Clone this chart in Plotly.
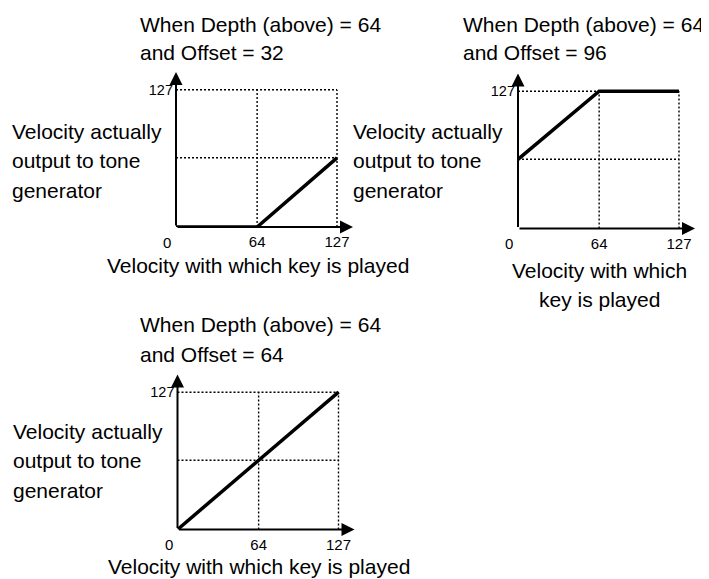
import plotly.graph_objects as go

# ---- data ----
titles = [
    ["When Depth (above) = 64", "and Offset = 32"],
    ["When Depth (above) = 64", "and Offset = 96"],
    ["When Depth (above) = 64", "and Offset = 64"],
]
y_label = ["Velocity actually", "output to tone", "generator"]
x_label_wide = ["Velocity with which key is played"]
x_label_narrow = ["Velocity with which", "key is played"]

key_vel = [[0, 64, 127], [0, 64, 127], [0, 127]]
out_vel = [[0, 0, 64], [64, 127, 127], [0, 127]]

grid_vals = [64, 127]
x_ticks = [64, 127]
y_ticks = [127]
vmax = 127

# ---- layout in pixels (page body adds an 8px margin) ----
OFF = 8
W, H = 709 - OFF, 579 - OFF
SX, SY = 161 / 127, 137.3 / 127        # px per unit
EXT_X, EXT_Y = 177, 155                # axis length incl. arrow (px)
origins = [(176, 227), (518, 228.5), (177.5, 529.5)]

FONT = "Liberation Sans, Arial, sans-serif"
TXT = 21
TICK = 15


def px(x):
    return (x - OFF) / W


def py(y):
    return 1 - (y - OFF) / H


fig = go.Figure()
annotations = []

for i, (ox, oy) in enumerate(origins):
    n = "" if i == 0 else str(i + 1)
    xa, ya = "x" + n, "y" + n
    xr = EXT_X / SX
    yr = EXT_Y / SY

    fig.update_layout(**{
        "xaxis" + n: dict(domain=[px(ox), px(ox + EXT_X)], range=[0, xr],
                          anchor=ya, showgrid=False, zeroline=False,
                          showline=False, tickvals=x_ticks, ticks="",
                          ticklabelstandoff=4,
                          tickfont=dict(size=TICK, color="black", family=FONT)),
        "yaxis" + n: dict(domain=[py(oy), py(oy - EXT_Y)], range=[0, yr],
                          anchor=xa, showgrid=False, zeroline=False,
                          showline=False, tickvals=y_ticks, ticks="",
                          ticklabelstandoff=2,
                          tickfont=dict(size=TICK - 0.5, color="black", family=FONT)),
    })

    # dotted guide box
    for g in grid_vals:
        fig.add_trace(go.Scatter(x=[g, g], y=[0, vmax], xaxis=xa, yaxis=ya,
                                 mode="lines", hoverinfo="skip",
                                 line=dict(color="black", width=1.4, dash="2px,2px")))
        fig.add_trace(go.Scatter(x=[0, vmax], y=[g, g], xaxis=xa, yaxis=ya,
                                 mode="lines", hoverinfo="skip",
                                 line=dict(color="black", width=1.4, dash="2px,2px")))

    # response curve
    fig.add_trace(go.Scatter(x=key_vel[i], y=out_vel[i], xaxis=xa, yaxis=ya,
                             mode="lines", line=dict(color="black", width=3.5),
                             cliponaxis=False))

    # axes with arrows
    for (tx, ty) in [(xr, 0), (0, yr)]:
        annotations.append(dict(x=tx, y=ty, ax=0, ay=0, xref=xa, yref=ya,
                                axref=xa, ayref=ya, text="", showarrow=True,
                                arrowhead=2, arrowsize=1.3, arrowwidth=2,
                                arrowcolor="black", standoff=0))
    # shared "0" at origin
    annotations.append(dict(x=0, y=0, xref=xa, yref=ya, text="0",
                            showarrow=False, xshift=-9, yshift=-15,
                            font=dict(size=TICK, color="black", family=FONT)))


def label(text, x, y, anchor="left"):
    if anchor == "left":
        x -= 2  # annotation box padding
    annotations.append(dict(x=px(x), y=py(y), xref="paper", yref="paper",
                            text=text, showarrow=False, xanchor=anchor,
                            yanchor="middle",
                            font=dict(size=TXT, color="black", family=FONT)))


# panel 1
label(titles[0][0], 140, 24)
label(titles[0][1], 140, 53)
for k, t in enumerate(y_label):
    label(t, 12, 131 + 29.5 * k)
label(x_label_wide[0], 107, 265)

# panel 2
label(titles[1][0], 463, 24)
label(titles[1][1], 463, 53)
for k, t in enumerate(y_label):
    label(t, 353, 131 + 29.5 * k)
label(x_label_narrow[0], 599, 270, "center")
label(x_label_narrow[1], 599, 299, "center")

# panel 3
label(titles[2][0], 140, 324)
label(titles[2][1], 140, 354)
for k, t in enumerate(y_label):
    label(t, 13, 431 + 29.5 * k)
label(x_label_wide[0], 108, 566.5)

fig.update_layout(
    width=W, height=H,
    margin=dict(l=0, r=0, t=0, b=0),
    paper_bgcolor="white", plot_bgcolor="white",
    showlegend=False,
    annotations=annotations,
    font=dict(family=FONT, color="black"),
)

fig.write_html("out.html")
